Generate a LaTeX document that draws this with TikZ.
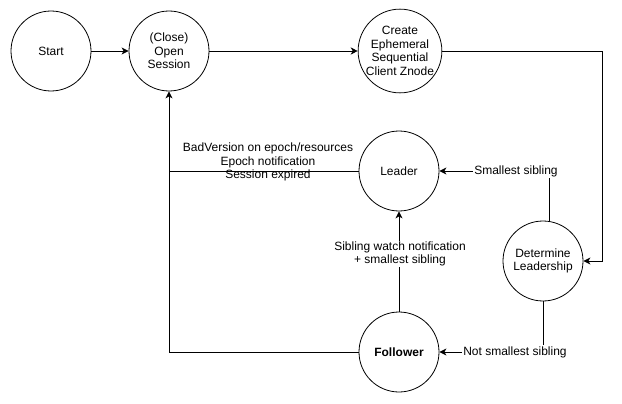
\documentclass[tikz,border=0pt]{standalone}
\usepackage{fontspec}
\setmainfont{Liberation Sans}
\usetikzlibrary{arrows.meta,calc}
\begin{document}
\begin{tikzpicture}[x=1pt,y=-1pt,
  every node/.style={font=\fontsize{12}{13.6}\selectfont},
  state/.style={draw, circle, minimum size=80pt, inner sep=0pt, align=center, line width=0.8pt},
  conn/.style={line width=0.9pt},
  arr/.style={conn, -{Stealth[length=7pt,width=7pt,inset=2pt]}},
  lbl/.style={fill=white, inner sep=1pt, align=center}]
\useasboundingbox (0,0) rectangle (622,404);
\node[state] (start) at (51,51) {Start};
\node[state] (open) at (169,51) {(Close)\\Open\\Session};
\node[state] (create) at (400,51) {Create\\Ephemeral\\Sequential\\Client Znode};
\node[state] (leader) at (399,171) {Leader};
\node[state] (det) at (543,261) {Determine\\Leadership};
\node[state] (follower) at (399,352) {\bfseries Follower};
\coordinate (rt) at (602,0);
\draw[arr] (start) -- (open);
\draw[arr] (open) -- (create);
\draw[arr] (create.east) -- (create.east -| rt) |- (det.east);
\draw[arr] ([xshift=6pt]det.north) |- (leader.east);
\node[lbl] (l1) at (516,171) {Smallest sibling};
\draw[arr] (det.south) |- (follower.east);
\node[lbl] (l2) at (515,352) {Not smallest sibling};
\draw[arr] (follower.north) -- (leader.south);
\node[lbl] (l3) at (400,254) {Sibling watch notification\\+ smallest sibling};
\draw[arr] (leader.west) -| (open.south);
\draw[conn] (follower.west) -| (leader.west -| open.south);
\node[align=center, inner sep=0pt] (l4) at (268,162) {BadVersion on epoch/resources\\Epoch notification\\Session expired};
\end{tikzpicture}
\end{document}
